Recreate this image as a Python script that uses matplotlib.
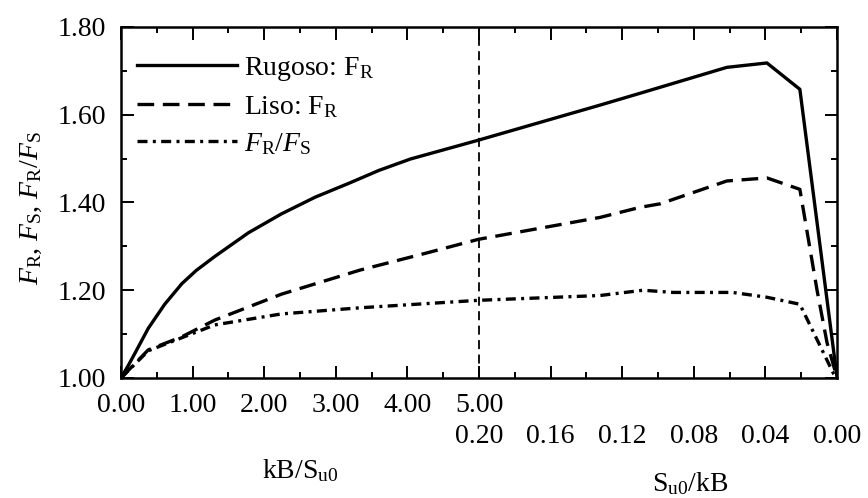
import matplotlib
matplotlib.use('Agg')
import matplotlib.pyplot as plt
from matplotlib.ticker import MultipleLocator, FuncFormatter, FixedLocator

plt.rcParams['font.family'] = ['Liberation Serif', 'DejaVu Serif']
plt.rcParams['mathtext.fontset'] = 'custom'
plt.rcParams['mathtext.rm'] = 'Liberation Serif'
plt.rcParams['mathtext.it'] = 'Liberation Serif:italic'
plt.rcParams['font.size'] = 20

# x runs 0..5 for kB/Su0, then 5..10 maps to Su0/kB = 0.20..0.00
rugoso_x = [0.0, 0.1, 0.2, 0.38, 0.61, 0.85, 1.05, 1.31, 1.78, 2.24, 2.71, 3.20, 3.60, 4.04, 4.99, 6.69, 7.25, 8.46, 9.02, 9.48, 10.0]
rugoso_y = [1.00, 1.028, 1.058, 1.113, 1.168, 1.215, 1.245, 1.277, 1.331, 1.374, 1.412, 1.445, 1.473, 1.499, 1.542, 1.622, 1.649, 1.708, 1.718, 1.658, 1.00]

liso_x = [0.0, 0.38, 0.85, 1.31, 2.24, 3.34, 4.27, 4.99, 6.69, 7.25, 7.53, 8.46, 9.02, 9.48, 9.72, 9.86, 10.0]
liso_y = [1.00, 1.064, 1.094, 1.132, 1.191, 1.246, 1.285, 1.316, 1.366, 1.389, 1.397, 1.449, 1.456, 1.430, 1.20, 1.08, 1.00]

ratio_x = [0.0, 0.38, 1.31, 2.24, 3.34, 4.99, 6.69, 7.29, 7.71, 8.54, 9.02, 9.48, 9.76, 9.95, 10.0]
ratio_y = [1.00, 1.062, 1.121, 1.146, 1.160, 1.177, 1.188, 1.200, 1.195, 1.195, 1.184, 1.168, 1.074, 1.01, 1.00]

split_x = 5.0
lower_ticks = [0, 1, 2, 3, 4, 5]
upper_ticks = [0.20, 0.16, 0.12, 0.08, 0.04, 0.00]

fig = plt.figure(figsize=(8.68, 4.98), dpi=100)
ax = fig.add_axes([0.1394, 0.241, 0.825, 0.7048])

ax.plot(rugoso_x, rugoso_y, color='k', lw=2.4, ls='-', label=r'Rugoso: F$_{\mathrm{R}}$')
ax.plot(liso_x, liso_y, color='k', lw=2.4, ls=(0, (5, 2.6)), label=r'Liso: F$_{\mathrm{R}}$')
ax.plot(ratio_x, ratio_y, color='k', lw=2.4, ls=(0, (3, 1.6, 0.9, 1.6)),
        label=r'$F_{\mathrm{R}}/F_{\mathrm{S}}$')
ax.axvline(split_x, color='k', lw=1.3, ls=(0, (5, 3)))

ax.set_xlim(0, 10)
ax.set_ylim(1.0, 1.8)
ax.xaxis.set_major_locator(MultipleLocator(1))
ax.xaxis.set_minor_locator(MultipleLocator(0.5))
ax.yaxis.set_major_locator(MultipleLocator(0.2))
ax.yaxis.set_minor_locator(MultipleLocator(0.1))
ax.xaxis.set_major_formatter(FuncFormatter(lambda v, p: f'{v:.2f}' if v in lower_ticks else ''))
ax.yaxis.set_major_formatter(FuncFormatter(lambda v, p: f'{v:.2f}'))
ax.tick_params(which='both', direction='in', top=True, right=True, width=1.4)
ax.tick_params(which='major', length=9, pad=11)
ax.tick_params(which='minor', length=4.5)
for s in ax.spines.values():
    s.set_linewidth(1.8)

# second row of x labels: Su0/kB
sec = ax.secondary_xaxis(-0.089, functions=(lambda t: 0.4 - 0.04 * t, lambda s: (0.4 - s) / 0.04))
sec.xaxis.set_major_locator(FixedLocator(upper_ticks))
sec.xaxis.set_major_formatter(FuncFormatter(lambda v, p: f'{v:.2f}'))
sec.xaxis.set_minor_locator(FixedLocator([]))
sec.tick_params(length=0, pad=11)
sec.spines['bottom'].set_visible(False)

ax.set_xlabel(r'kB/S$_{\mathrm{u0}}$')
ax.xaxis.set_label_coords(0.25, -0.225)
ax.text(0.795, -0.30, r'S$_{\mathrm{u0}}$/kB', transform=ax.transAxes, ha='center', va='center')

ax.set_ylabel(r'$F_{\mathrm{R}}$, $F_{\mathrm{S}}$, $F_{\mathrm{R}}/F_{\mathrm{S}}$')
ax.yaxis.set_label_coords(-0.108, 0.484)

ax.legend(loc='upper left', bbox_to_anchor=(0.022, 0.92), frameon=False, borderpad=0,
          borderaxespad=0, handlelength=3.6, handletextpad=0.25, labelspacing=0.4)

fig.savefig('out.png', dpi=100)
